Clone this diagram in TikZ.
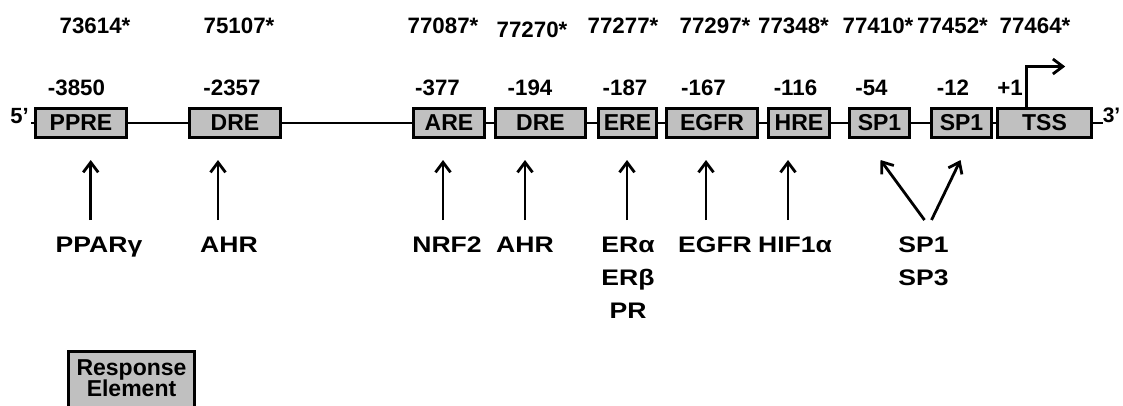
\documentclass[tikz,border=0pt]{standalone}
\usepackage{fontspec}
\setmainfont{Liberation Sans}
\newfontfamily\lblfont[FakeStretch=1.18]{Liberation Sans}
\usetikzlibrary{arrows.meta}
\definecolor{boxgray}{RGB}{192,192,192}
\begin{document}
\begin{tikzpicture}[x=1pt,y=-1pt,
  font=\fontsize{23}{33}\selectfont\bfseries,
  re/.style={draw,line width=2.8pt,fill=boxgray,minimum height=29.2pt,inner sep=0pt},
  lbl/.style={anchor=base,inner sep=0pt},
  topnum/.style={lbl,font=\fontsize{22.3}{26}\selectfont\bfseries},
  posnum/.style={lbl,font=\fontsize{22.3}{26}\selectfont\bfseries},
  tf/.style={anchor=north,inner sep=0pt,align=center,font=\lblfont\fontsize{22.5}{33}\selectfont\bfseries},
  arr/.style={line width=2.8pt,-{Straight Barb[length=10pt,width=15pt]}},
  bb/.style={line width=2.6pt}]
\useasboundingbox (0,0) rectangle (1123,405);
\clip (0,0) rectangle (1123,405);

% top coordinates
\node[topnum] (t1) at (95,33) {73614*};
\node[topnum] (t2) at (239,33) {75107*};
\node[topnum] (t3) at (443,33) {77087*};
\node[topnum] (t4) at (532,37) {77270*};
\node[topnum] (t5) at (623,33) {77277*};
\node[topnum] (t6) at (715,33) {77297*};
\node[topnum] (t7) at (793.5,33) {77348*};
\node[topnum] (t8) at (878,33) {77410*};
\node[topnum] (t9) at (952.5,33) {77452*};
\node[topnum] (t10) at (1035,33) {77464*};

% positions
\node[posnum] (p1) at (76.5,95) {-3850};
\node[posnum] (p2) at (232,95) {-2357};
\node[posnum] (p3) at (437.5,95) {-377};
\node[posnum] (p4) at (530,95) {-194};
\node[posnum] (p5) at (625,95) {-187};
\node[posnum] (p6) at (703.5,95) {-167};
\node[posnum] (p7) at (795.5,95) {-116};
\node[posnum] (p8) at (871.5,95) {-54};
\node[posnum] (p9) at (953,95) {-12};
\node[posnum] (p10) at (1010,95) {+1};

% ends
\node[inner sep=0pt,font=\fontsize{22}{26}\selectfont\bfseries] (five) at (19.5,116.5) {5’};
\node[inner sep=0pt,font=\fontsize{21}{26}\selectfont\bfseries] (three) at (1111.5,115) {3’};
\coordinate (s5) at (31,123);
\coordinate (e3) at (1103,123);

% response elements
\node[re,minimum width=91.2pt] (ppre) at (81,123) {PPRE};
\node[re,minimum width=91.2pt] (dre1) at (235,123) {DRE};
\node[re,minimum width=71.2pt] (are) at (449,123) {ARE};
\node[re,minimum width=90.2pt] (dre2) at (540.5,123) {DRE};
\node[re,minimum width=58.2pt] (ere) at (627.5,123) {ERE};
\node[re,minimum width=91.2pt] (egfrb) at (712,123) {EGFR};
\node[re,minimum width=61.2pt] (hre) at (799,123) {HRE};
\node[re,minimum width=60.2pt] (spa) at (879.5,123) {SP1};
\node[re,minimum width=60.2pt] (spb) at (961.5,123) {SP1};
\node[re,minimum width=94.2pt] (tss) at (1044.5,123) {TSS};

% backbone
\draw[bb] (s5) -- (ppre.west) (ppre.east) -- (dre1.west) (dre1.east) -- (are.west)
  (are.east) -- (dre2.west) (dre2.east) -- (ere.west) (ere.east) -- (egfrb.west)
  (egfrb.east) -- (hre.west) (hre.east) -- (spa.west) (spa.east) -- (spb.west)
  (spb.east) -- (tss.west) (tss.east) -- (e3);

% TSS arrow
\draw[arr,line cap=butt] ([xshift=-17.8pt]tss.north) -- ++(0,-40.5) -- ++(38.5,0);

% factors
\node[tf] (ppar) at (99,237) {PPARγ};
\node[tf] (ahr1) at (229,237) {AHR};
\node[tf] (nrf) at (447,237) {NRF2};
\node[tf] (ahr2) at (525,237) {AHR};
\node[tf] (er) at (628,237) {ERα\\ERβ\\PR};
\node[tf] (egfr) at (715,237) {EGFR};
\node[tf] (hif) at (795,237) {HIF1α};
\node[tf] (sp) at (923.5,237) {SP1\\SP3};

\draw[arr,shorten >=21pt] ([xshift=-8.3pt,yshift=17pt]ppar.north) -- ([xshift=-8.3pt]ppar.north |- ppre.south);
\draw[arr,shorten >=21pt] ([xshift=-11pt,yshift=17pt]ahr1.north) -- ([xshift=-11pt]ahr1.north |- dre1.south);
\draw[arr,shorten >=21pt] ([xshift=-4pt,yshift=17pt]nrf.north) -- ([xshift=-4pt]nrf.north |- are.south);
\draw[arr,shorten >=21pt] ([yshift=17pt]ahr2.north) -- (ahr2.north |- dre2.south);
\draw[arr,shorten >=21pt] ([xshift=-1pt,yshift=17pt]er.north) -- ([xshift=-1pt]er.north |- ere.south);
\draw[arr,shorten >=21pt] ([xshift=-9pt,yshift=17pt]egfr.north) -- ([xshift=-9pt]egfr.north |- egfrb.south);
\draw[arr,shorten >=21pt] ([xshift=-7pt,yshift=17pt]hif.north) -- ([xshift=-7pt]hif.north |- hre.south);
\draw[arr] ([xshift=1pt,yshift=17pt]sp.north) -- ([xshift=1pt,yshift=-21pt]spa.south);
\draw[arr] ([xshift=8pt,yshift=17pt]sp.north) -- ([xshift=-1pt,yshift=-21pt]spb.south);

% legend
\node[re,anchor=north,minimum width=126.2pt,align=center,inner ysep=7.5pt,
  font=\fontsize{23}{21.7}\selectfont\bfseries] (legend) at (131.5,350.4) {Response\\Element\\[8pt]};
\end{tikzpicture}
\end{document}
